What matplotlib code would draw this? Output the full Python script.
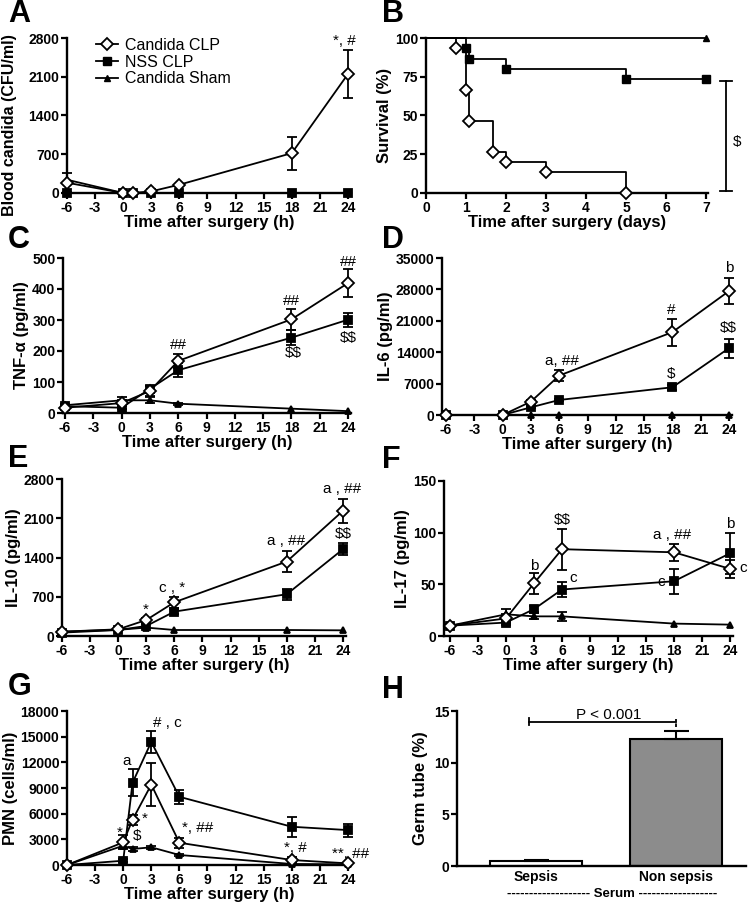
# -*- coding: utf-8 -*-
"""
Candida CLP sepsis model: blood candida, survival, cytokines, PMN, germ tube
"""
import numpy as np
import matplotlib
matplotlib.use('Agg')
import matplotlib.pyplot as plt
from matplotlib.lines import Line2D

plt.rcParams['font.family'] = ['Liberation Sans', 'DejaVu Sans']
plt.rcParams['axes.labelweight'] = 'bold'
plt.rcParams['text.parse_math'] = False
plt.rcParams['axes.unicode_minus'] = False

# ============================  Data  ====================================
hours7 = [-6, 0, 1, 3, 6, 18, 24]
hours6 = [-6, 0, 3, 6, 18, 24]

# -- A: blood candida (CFU/ml)
blood_cand = [186, 0, 0, 30, 150, 720, 2150]
blood_cand_err = [170, 0, 0, 0, 0, 300, 430]
blood_nss = [0, 0, 0, 0, 0, 0, 0]
blood_sham = [240, 0, 0, 0, 0, 0, 0]

# -- B: survival (%)
surv_cand_t = [0, 0.75, 1.0, 1.08, 1.67, 2, 3, 5]
surv_cand = [100, 93.3, 66.7, 46.7, 26.7, 20, 13.3, 0]
surv_nss_t = [0, 1.0, 1.08, 2, 5, 7]
surv_nss = [100, 93.3, 86.7, 80, 73.3, 73.3]
surv_sham_t = [0, 7]
surv_sham = [100, 100]

# -- C: TNF-alpha (pg/ml)
tnf_cand = [17, 32, 71, 168, 302, 419]
tnf_cand_err = [5, 10, 15, 23, 35, 44]
tnf_nss = [22, 17, 78, 138, 243, 301]
tnf_nss_err = [5, 5, 8, 22, 24, 22]
tnf_sham = [25, 41, 41, 30, 14, 6]
tnf_sham_err = [5, 12, 10, 3, 0, 0]

# -- D: IL-6 (pg/ml)
il6_cand = [0, 0, 2980, 8790, 18470, 27630]
il6_cand_err = [0, 0, 300, 1300, 3000, 2900]
il6_nss = [0, 0, 1710, 3350, 6180, 14900]
il6_nss_err = [0, 0, 200, 300, 600, 2100]
il6_sham = [0, 0, 0, 0, 0, 0]

# -- E: IL-10 (pg/ml)
il10_cand = [77, 119, 286, 602, 1328, 2233]
il10_cand_err = [0, 0, 40, 100, 190, 210]
il10_nss = [60, 107, 179, 435, 745, 1548]
il10_nss_err = [0, 0, 30, 50, 95, 110]
il10_sham = [77, 110, 150, 107, 107, 101]

# -- F: IL-17 (pg/ml)
il17_cand = [10, 17, 51, 84, 81, 65]
il17_cand_err = [0, 4, 10, 20, 8, 9]
il17_nss = [10, 13, 26, 45, 53, 80]
il17_nss_err = [0, 2, 3, 7, 12, 20]
il17_sham = [10, 21, 19, 19, 12, 11]
il17_sham_err = [0, 5, 3, 4, 0, 0]

# -- G: PMN (cells/ml)
pmn_cand = [0, 2650, 5300, 9400, 2600, 580, 190]
pmn_cand_err = [0, 800, 600, 2550, 600, 300, 100]
pmn_nss = [0, 500, 9620, 14390, 7970, 4470, 4080]
pmn_nss_err = [0, 200, 1600, 1300, 800, 1150, 750]
pmn_sham = [0, 2260, 1870, 2070, 1170, 120, 80]
pmn_sham_err = [0, 300, 200, 150, 150, 0, 0]

# -- H: germ tube (%)
germ_groups = ['Sepsis', 'Non sepsis']
germ_vals = [0.45, 12.3]
germ_err = [0.1, 0.75]

W, H = 748, 905
fig = plt.figure(figsize=(W / 100, H / 100), dpi=100)


# ============================  Helpers  =================================
def place(xm6, x24, y0, ytop, xmin=-6, xmax=24.3):
    """ axes so that x=-6 / x=24 fall on given pixel columns """
    pu = (x24 - xm6) / 30.0
    left = xm6 + (xmin + 6) * pu
    right = xm6 + (xmax + 6) * pu
    ax = fig.add_axes([left / W, 1 - y0 / H, (right - left) / W, (y0 - ytop) / H])
    ax.set_xlim(xmin, xmax)
    return ax


def style(ax):
    for s in ['top', 'right']:
        ax.spines[s].set_visible(False)
    for s in ['left', 'bottom']:
        ax.spines[s].set_linewidth(1.7)
    ax.tick_params(direction='out', length=4, width=1.6, labelsize=10, pad=1.5)
    plt.setp(ax.get_xticklabels() + ax.get_yticklabels(), fontweight='bold')


def series(ax, x, y, err, marker, mfc, ms, z):
    e = None if err is None else [v if v > 0 else np.nan for v in err]
    cont = ax.errorbar(x, y, yerr=e, color='k', marker=marker, mfc=mfc, mec='k',
                       ms=ms, mew=1.3, lw=1.3, elinewidth=1.3, capsize=3.6,
                       capthick=1.3, zorder=z)
    for art in cont.get_children():
        art.set_clip_on(False)


def hour_axis(ax, ymax, ystep, ylabel, lsize=12):
    ax.set_ylim(0, ymax)
    ax.set_yticks(np.arange(0, ymax + 1, ystep))
    ax.set_xticks(np.arange(-6, 25, 3))
    ax.set_xlabel('Time after surgery (h)', fontsize=12, labelpad=0)
    ax.set_ylabel(ylabel, fontsize=lsize, labelpad=2)
    style(ax)


def three(ax, x, cand, cand_err, nss, nss_err, sham, sham_err):
    series(ax, x, sham, sham_err, '^', 'k', 5, 3)
    series(ax, x, nss, nss_err, 's', 'k', 6, 4)
    series(ax, x, cand, cand_err, 'D', 'white', 6.5, 5)


def notes(ax, items):
    for tx, ty, s in items:
        ax.text(tx, ty, s, fontsize=11, ha='center', va='center', clip_on=False)


def letter(x, y, s):
    fig.text(x / W, 1 - y / H, s, fontsize=22, fontweight='bold', va='baseline')


# ============================  A  =======================================
axA = place(67, 348, 193, 38)
three(axA, hours7, blood_cand, blood_cand_err, blood_nss, None, blood_sham, None)
hour_axis(axA, 2800, 700, 'Blood candida (CFU/ml)', lsize=11.5)
axA.yaxis.set_label_coords(-0.175, 0.44)
notes(axA, [(23.6, 2740, '*, #')])
handles = [Line2D([], [], color='k', lw=1.3, marker='D', mfc='white', mec='k', ms=6.5, mew=1.3),
           Line2D([], [], color='k', lw=1.3, marker='s', mfc='k', ms=6),
           Line2D([], [], color='k', lw=1.3, marker='^', mfc='k', ms=5)]
axA.legend(handles, ['Candida CLP', 'NSS CLP', 'Candida Sham'], frameon=False,
           fontsize=11.5, loc='upper left', bbox_to_anchor=(88 / W, 1 - 30 / H),
           bbox_transform=fig.transFigure, borderpad=0, handlelength=1.4,
           handletextpad=0.4, labelspacing=0.1)

# ============================  B  =======================================
axB = fig.add_axes([426 / W, 1 - 193 / H, 282 / W, 155 / H])
axB.step(surv_sham_t, surv_sham, where='post', color='k', lw=1.3, clip_on=False)
axB.step(surv_nss_t, surv_nss, where='post', color='k', lw=1.3, clip_on=False)
axB.step(surv_cand_t, surv_cand, where='post', color='k', lw=1.3, clip_on=False)
axB.plot(surv_sham_t[1:], surv_sham[1:], '^', color='k', ms=5, clip_on=False, zorder=5)
axB.plot(surv_nss_t[1:], surv_nss[1:], 's', color='k', ms=6, clip_on=False, zorder=5)
axB.plot(surv_cand_t[1:], surv_cand[1:], 'D', mfc='white', mec='k', mew=1.3, ms=6.5,
         clip_on=False, zorder=6)
axB.set_xlim(0, 7.05)
axB.set_ylim(0, 100)
axB.set_xticks(range(0, 8))
axB.set_yticks([0, 25, 50, 75, 100])
axB.set_xlabel('Time after surgery (days)', fontsize=12, labelpad=0)
axB.set_ylabel('Survival (%)', fontsize=12, labelpad=2)
style(axB)
axB.plot([7.5, 7.5], [1, 72], color='k', lw=1.3, clip_on=False)
axB.plot([7.35, 7.65], [72, 72], color='k', lw=1.3, clip_on=False)
axB.plot([7.35, 7.65], [1, 1], color='k', lw=1.3, clip_on=False)
axB.text(7.78, 33, '$', fontsize=11, ha='center', va='center', clip_on=False)

# ============================  C  =======================================
axC = place(65, 348, 413, 258, xmin=-6.2)
three(axC, hours6, tnf_cand, tnf_cand_err, tnf_nss, tnf_nss_err, tnf_sham, tnf_sham_err)
hour_axis(axC, 500, 100, 'TNF-α (pg/ml)')
notes(axC, [(6, 218, '##'), (18, 362, '##'), (24, 486, '##'),
            (18.2, 195, '$$'), (24, 243, '$$')])

# ============================  D  =======================================
axD = place(446, 729, 415, 258, xmin=-6.42)
three(axD, hours6, il6_cand, il6_cand_err, il6_nss, il6_nss_err, il6_sham, None)
hour_axis(axD, 35000, 7000, 'IL-6 (pg/ml)')
notes(axD, [(6.3, 12000, 'a, ##'), (17.9, 23300, '#'), (24, 32700, 'b'),
            (17.9, 9100, '$'), (23.9, 19300, '$$')])

# ============================  E  =======================================
axE = place(62, 343, 636, 479)
three(axE, hours6, il10_cand, il10_cand_err, il10_nss, il10_nss_err, il10_sham, None)
hour_axis(axE, 2800, 700, 'IL-10 (pg/ml)')
notes(axE, [(2.9, 470, '*'), (5.8, 850, 'c , *'), (17.9, 1690, 'a , ##'),
            (23.9, 2620, 'a , ##'), (24, 1820, '$$')])

# ============================  F  =======================================
axF = place(450, 730, 636, 481, xmin=-6.64)
three(axF, hours6, il17_cand, il17_cand_err, il17_nss, il17_nss_err, il17_sham, il17_sham_err)
hour_axis(axF, 150, 50, 'IL-17 (pg/ml)')
notes(axF, [(3, 68, 'b'), (6, 112, '$$'), (7.2, 56, 'c'), (17.8, 98, 'a , ##'),
            (16.6, 52.5, 'c'), (24, 108, 'b'), (25.4, 66, 'c')])

# ============================  G  =======================================
axG = place(67, 348, 865, 711)
three(axG, hours7, pmn_cand, pmn_cand_err, pmn_nss, pmn_nss_err, pmn_sham, pmn_sham_err)
hour_axis(axG, 18000, 3000, 'PMN (cells/ml)')
notes(axG, [(-0.4, 3800, '*'), (1.5, 3400, '$'), (0.4, 12200, 'a'), (2.3, 5400, '*'),
            (4.7, 16600, '# , c'), (7.9, 4300, '*, ##'), (18.4, 2000, '*, #'),
            (24.3, 1300, '**, ##')])

# ============================  H  =======================================
axH = fig.add_axes([457 / W, 1 - 866 / H, 289 / W, 155 / H])
xb = np.arange(len(germ_groups))
axH.bar(xb, germ_vals, width=0.66, color=['white', '#8c8c8c'], edgecolor='k',
        linewidth=1.5, zorder=2)
axH.errorbar(xb, germ_vals, yerr=[[0, 0], germ_err], fmt='none', ecolor='k',
             elinewidth=1.5, capsize=9, capthick=1.5, zorder=3)
axH.set_xlim(-0.564, 1.5)
axH.set_ylim(0, 15)
axH.set_yticks([0, 5, 10, 15])
axH.set_xticks(xb)
axH.set_xticklabels(germ_groups)
axH.set_ylabel('Germ tube (%)', fontsize=12, labelpad=4)
style(axH)
axH.tick_params(axis='x', length=0, labelsize=10, pad=3)
axH.plot([-0.05, 1.0], [13.95, 13.95], color='k', lw=1.3, clip_on=False)
axH.plot([-0.05, -0.05], [13.6, 14.3], color='k', lw=1.3, clip_on=False)
axH.plot([1.0, 1.0], [13.5, 14.2], color='k', lw=1.3, ls=(0, (2, 1)), clip_on=False)
axH.text(0.52, 14.65, 'P < 0.001', fontsize=11, ha='center', va='center')
fig.text(612 / W, 1 - 894 / H, '------------------- Serum ------------------',
         fontsize=9.5, fontweight='bold', ha='center', va='center')

# ============================  Panel letters  ===========================
letter(8, 22, 'A')
letter(382, 22, 'B')
letter(8, 248, 'C')
letter(382, 248, 'D')
letter(8, 467, 'E')
letter(382, 468, 'F')
letter(8, 695, 'G')
letter(382, 698, 'H')

plt.savefig('out.png', dpi=100)
